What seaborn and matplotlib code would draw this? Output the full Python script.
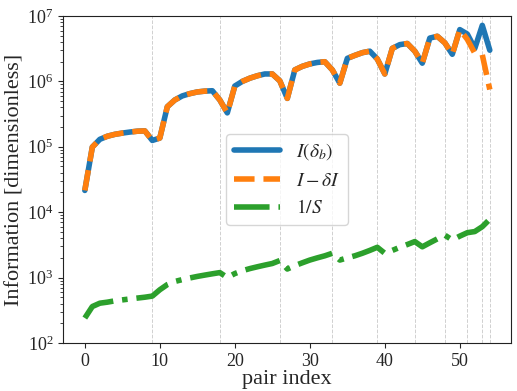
import numpy as np
import pandas as pd
import matplotlib
matplotlib.use("Agg")
import matplotlib.pyplot as plt
import seaborn as sns

pair_index = list(range(55))

info_db = [2.15e4, 9.9e4, 1.3e5, 1.45e5, 1.55e5, 1.62e5, 1.68e5, 1.73e5, 1.75e5, 1.25e5,
           1.36e5, 4.1e5, 5.2e5, 6.0e5, 6.5e5, 6.9e5, 7.1e5, 7.2e5, 5.2e5, 3.3e5,
           8.5e5, 1.0e6, 1.12e6, 1.22e6, 1.3e6, 1.3e6, 1.02e6, 5.5e5, 1.5e6, 1.7e6,
           1.85e6, 1.95e6, 2.0e6, 1.5e6, 9.4e5, 2.25e6, 2.5e6, 2.75e6, 2.9e6, 2.2e6,
           1.3e6, 3.2e6, 3.65e6, 3.8e6, 2.9e6, 1.9e6, 4.6e6, 4.9e6, 3.9e6, 2.6e6,
           6.2e6, 5.3e6, 3.2e6, 7.2e6, 3.0e6]

info_minus = info_db[:51] + [4.4e6, 2.7e6, 2.55e6, 7.5e5]

inv_s = [240, 360, 405, 420, 440, 455, 470, 485, 500, 520,
         650, 780, 870, 930, 985, 1040, 1090, 1140, 1190, 1000,
         1150, 1270, 1370, 1460, 1550, 1640, 1820, 1350, 1520, 1680,
         1850, 2000, 2150, 2350, 1850, 2000, 2150, 2350, 2600, 2900,
         2350, 2600, 2900, 3200, 3550, 2950, 3400, 3900, 4450, 3750,
         4300, 4850, 5050, 6000, 7800]

boundaries = [9, 18, 26, 33, 39, 44, 48, 51, 53, 54]

labels = [r"$I(\delta_b)$", r"$I - \delta I$", r"$1/S$"]

sns.set_style("ticks")
plt.rcParams["font.family"] = ["Liberation Serif", "DejaVu Serif"]
plt.rcParams["mathtext.fontset"] = "stix"

fig = plt.figure(figsize=(5.17, 3.91), dpi=100)
ax = fig.add_axes([0.122, 0.123, 0.866, 0.836])

for b in boundaries:
    ax.axvline(b, color="#d0d0d0", ls="--", lw=0.7, zorder=0)

df = pd.DataFrame({"x": pair_index, "a": info_db, "b": info_minus, "c": inv_s})
sns.lineplot(data=df, x="x", y="a", ax=ax, color="tab:blue", lw=4, label=labels[0])
sns.lineplot(data=df, x="x", y="b", ax=ax, color="tab:orange", lw=4, ls="--", label=labels[1])
sns.lineplot(data=df, x="x", y="c", ax=ax, color="tab:green", lw=4, ls="-.", label=labels[2])

ax.set_yscale("log")
ax.set_ylim(1e2, 1e7)
ax.set_xlim(-2.9, 56.8)
ax.set_xticks([0, 10, 20, 30, 40, 50])
ax.set_xlabel("pair index", fontsize=16, labelpad=0)
ax.set_ylabel("Information [dimensionless]", fontsize=16, labelpad=2)
ax.tick_params(axis="both", labelsize=13)
for s in ax.spines.values():
    s.set_visible(True)
    s.set_color("#222222")

ax.legend(loc="center", fontsize=14, handlelength=2.4, frameon=True, framealpha=0.8)

fig.savefig("out.png", dpi=100)
